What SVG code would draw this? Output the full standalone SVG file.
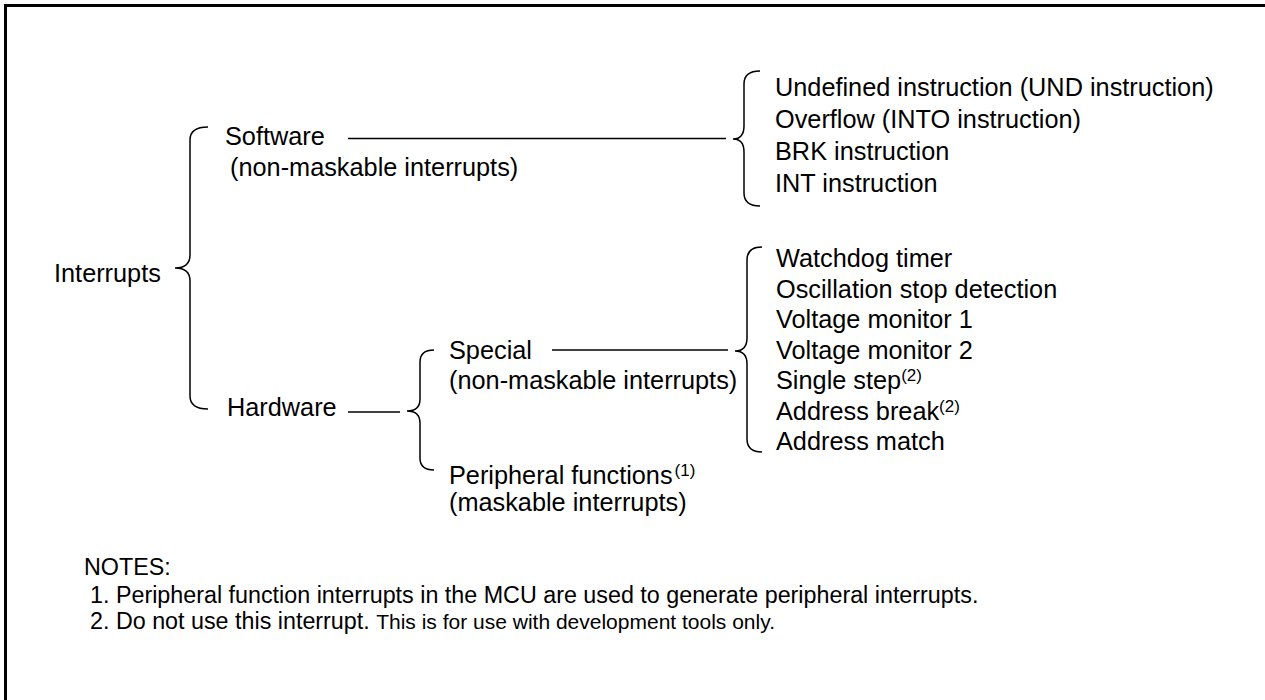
<svg xmlns="http://www.w3.org/2000/svg" width="1265" height="700" viewBox="0 0 1265 700">
<style>
.t{font-family:"Liberation Sans",Arial,sans-serif;font-size:25.3px;fill:#000}
.n{font-family:"Liberation Sans",Arial,sans-serif;font-size:23.3px;fill:#000}
.b{fill:none;stroke:#000;stroke-width:1.5}
.sup{font-size:17px}
</style>
<rect x="0" y="0" width="1265" height="700" fill="#fff"/>
<path d="M5.5,700 V5.5 H1265" fill="none" stroke="#000" stroke-width="3"/>
<g id="connectors">
<path class="b" d="M208,127 Q190,127 190,140 L190,255 Q190,268 175,268 Q190,268 190,281 L190,396 Q190,409 208,409"/>
<path class="b" d="M434,350 Q420,350 420,362 L420,399 Q420,411 407,411 Q420,411 420,423 L420,458 Q420,470 434,470"/>
<path class="b" d="M760,71 Q744,71 744,84 L744,126 Q744,139 733,139 Q744,139 744,152 L744,193 Q744,206 760,206"/>
<path class="b" d="M762,247 Q747,247 747,260 L747,338 Q747,351 735,351 Q747,351 747,364 L747,439 Q747,452 762,452"/>
<line class="b" x1="348" y1="138.5" x2="726" y2="138.5"/>
<line class="b" x1="348" y1="412" x2="400" y2="412"/>
<line class="b" x1="552" y1="350" x2="728" y2="350"/>
</g>
<g id="interrupts"><text class="t" x="54" y="282">Interrupts</text></g>
<g id="software"><text class="t" x="225" y="145">Software</text><text class="t" x="230" y="176">(non-maskable interrupts)</text></g>
<g id="hardware"><text class="t" x="227" y="416">Hardware</text></g>
<g id="special"><text class="t" x="449" y="359">Special</text><text class="t" x="449" y="389">(non-maskable interrupts)</text></g>
<g id="peripheral"><text class="t" x="449" y="484">Peripheral functions<tspan class="sup" dx="2" dy="-8">(1)</tspan></text><text class="t" x="449" y="511">(maskable interrupts)</text></g>
<g id="software-list">
<text class="t" x="775" y="96">Undefined instruction (UND instruction)</text>
<text class="t" x="775" y="128">Overflow (INTO instruction)</text>
<text class="t" x="775" y="160">BRK instruction</text>
<text class="t" x="775" y="192">INT instruction</text>
</g>
<g id="special-list">
<text class="t" x="776" y="267">Watchdog timer</text>
<text class="t" x="776" y="297.5">Oscillation stop detection</text>
<text class="t" x="776" y="328">Voltage monitor 1</text>
<text class="t" x="776" y="358.5">Voltage monitor 2</text>
<text class="t" x="776" y="389">Single step<tspan class="sup" dy="-8">(2)</tspan></text>
<text class="t" x="776" y="419.5">Address break<tspan class="sup" dy="-8">(2)</tspan></text>
<text class="t" x="776" y="450">Address match</text>
</g>
<g id="notes">
<text class="n" x="84" y="575">NOTES:</text>
<text class="n" x="90" y="603">1. Peripheral function interrupts in the MCU are used to generate peripheral interrupts.</text>
<text class="n" x="90" y="629">2. Do not use this interrupt. <tspan font-size="21px">This is for use with development tools only.</tspan></text>
</g>
</svg>
